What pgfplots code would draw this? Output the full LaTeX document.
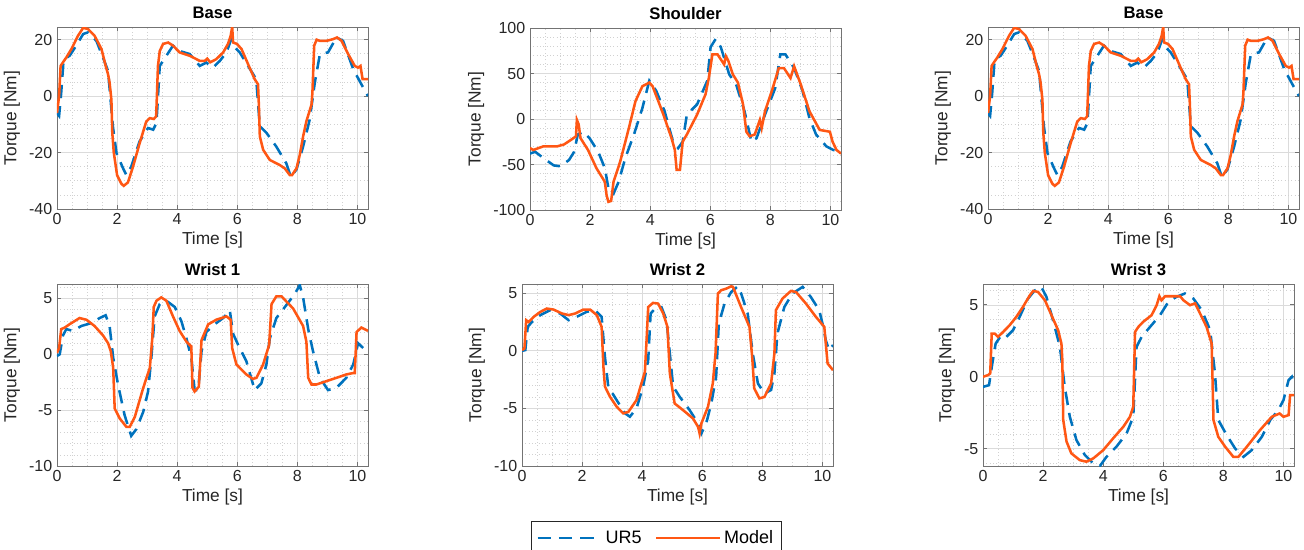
\documentclass[border=0pt]{standalone}
\usepackage{fontspec}
\setmainfont{Liberation Sans}
\usepackage{pgfplots}
\usepackage{pgfplotstable}
\pgfplotsset{compat=1.18}
\definecolor{urblue}{RGB}{0,114,189}
\definecolor{mdlorange}{RGB}{255,87,20}
\definecolor{axgray}{RGB}{38,38,38}

% Base (used twice)
\pgfplotstableread{
t y
0 -6
0.07 0
0.12 10.7
0.2 12
0.31 13.7
0.48 16.7
0.7 21.4
0.87 24.2
1.03 23.8
1.25 21.4
1.48 16.7
1.62 10.7
1.7 7.7
1.75 4.8
1.81 -1.2
1.84 -13
1.89 -20
2.0 -28
2.14 -31
2.22 -31.8
2.36 -30.6
2.53 -25
2.75 -16.7
2.97 -9
3.09 -7.8
3.22 -8.1
3.3 -7.2
3.36 10.7
3.42 16
3.53 18.5
3.7 19
3.86 17.9
4.08 15.5
4.42 14.3
4.75 12.5
4.92 12.5
5.0 13.3
5.1 12
5.3 13.1
5.53 15.5
5.69 18.5
5.78 21.4
5.83 24.5
5.86 19
5.99 18.5
6.14 16.7
6.36 11.3
6.58 6
6.69 4.2
6.72 -3.6
6.75 -14.3
6.86 -19
7.08 -22.6
7.41 -24.4
7.58 -25.6
7.75 -28
7.82 -28
7.97 -25.6
8.08 -20.8
8.19 -14.3
8.3 -8.9
8.47 -3
8.5 1.2
8.56 17.9
8.64 20
8.75 19.6
8.97 19.6
9.19 20.2
9.32 20.8
9.47 19.6
9.69 14.9
9.91 10.7
10.02 10.1
10.1 10.7
10.17 6
10.35 6
}\baseM
\pgfplotstableread{
t y
0 -6
0.07 -7
0.14 1.2
0.22 13
0.42 14.3
0.64 17.9
0.87 22
1.03 22.6
1.31 19.6
1.53 13.7
1.7 8.9
1.86 -10.7
1.98 -20.2
2.2 -25.6
2.31 -28
2.47 -25
2.75 -16
3.03 -11.3
3.2 -11.9
3.31 -9.5
3.42 10.7
3.64 14.3
3.86 17.9
4.08 16
4.42 14.9
4.75 10.7
4.97 11.9
5.19 10.1
5.42 12.5
5.64 15.5
5.8 20.2
5.92 17.3
6.08 15.5
6.36 10.7
6.63 6
6.75 -10.7
6.97 -13
7.3 -17.9
7.63 -23.8
7.78 -28.6
7.97 -26
8.19 -17.9
8.41 -8.3
8.58 4.8
8.75 14.9
9.02 15.5
9.3 20.8
9.52 19.6
9.86 9.5
10.13 4.2
10.35 0
}\baseU

% Shoulder
\pgfplotstableread{
t y
0 -32
0.11 -34
0.28 -32
0.45 -30
0.91 -30
1.13 -28
1.36 -23
1.53 -19
1.56 -1
1.62 -6
1.68 -21
1.93 -34
2.21 -54
2.49 -69
2.55 -84
2.61 -91
2.7 -90
2.78 -69
3.0 -47
3.29 -10
3.51 19.6
3.74 36
3.97 40
4.08 36
4.42 6.6
4.71 -21
4.82 -34
4.88 -56
4.99 -56
5.08 -25
5.22 -17
5.56 4.8
5.84 27
5.95 45
6.07 71
6.24 71
6.46 60
6.52 69
6.6 64
6.75 49
6.92 40
7.09 16
7.2 -14
7.31 -19
7.48 -17
7.65 -1
7.71 -10
7.82 8.5
8.05 31
8.28 56
8.45 56
8.67 45
8.79 58
9.01 38
9.3 8.5
9.64 -12
9.98 -14
10.07 -25
10.2 -34
10.35 -38
}\shM
\pgfplotstableread{
t y
0 -38
0.17 -36
0.45 -43
0.79 -51
1.02 -52
1.3 -45
1.47 -36
1.59 -17
1.76 -14
1.98 -21
2.27 -36
2.49 -54
2.61 -76
2.78 -82
2.95 -69
3.17 -43
3.46 -17
3.74 12
3.97 42
4.2 31
4.48 8.5
4.76 -25
4.93 -32
5.08 -25
5.22 4.8
5.56 16
5.9 42
6.01 79
6.18 88
6.35 79
6.63 49
6.86 38
7.14 8.5
7.37 -25
7.54 -21
7.82 4.8
8.16 34
8.33 71
8.5 71
8.79 56
9.07 31
9.3 1
9.52 -17
9.86 -30
10.09 -34
10.35 -36
}\shU

% Wrist 1
\pgfplotstableread{
t y
0 0.14
0.07 0.56
0.14 2.26
0.26 2.4
0.42 2.7
0.75 3.25
0.98 3.1
1.25 2.54
1.53 1.7
1.7 1.0
1.79 0.28
1.87 -1.2
1.92 -4.85
2.09 -5.75
2.31 -6.5
2.42 -6.5
2.59 -5.6
2.87 -3.0
3.09 -1.2
3.17 1.4
3.22 4.24
3.31 4.8
3.47 5.1
3.64 4.8
3.86 3.4
4.08 2.1
4.31 1.13
4.47 0.7
4.51 -3.0
4.58 -3.33
4.72 -2.9
4.81 1.27
5.03 2.68
5.3 3.1
5.64 3.4
5.78 3.1
5.83 0.56
5.97 -0.9
6.3 -1.8
6.52 -2.2
6.64 -2.1
6.86 -0.9
7.06 0.85
7.14 4.5
7.3 5.2
7.47 5.2
7.86 4.1
8.19 2.54
8.3 1.13
8.36 -2.1
8.47 -2.7
8.63 -2.7
9.08 -2.3
9.63 -1.8
9.86 -1.67
9.91 -1.67
9.97 2.0
10.13 2.4
10.35 2.1
}\wAM
\pgfplotstableread{
t y
0 -0.15
0.09 0
0.2 1.7
0.31 2.26
0.53 2.1
0.81 2.54
1.14 2.8
1.42 3.25
1.62 3.5
1.75 2.54
1.87 -0.3
2.03 -2.7
2.25 -5.45
2.47 -7.3
2.64 -6.7
2.87 -5.15
3.03 -3.33
3.14 -0.3
3.25 3.4
3.42 4.5
3.64 4.8
3.92 4.24
4.14 2.97
4.31 1.4
4.47 -0.3
4.58 -3.2
4.7 -3.2
4.81 0.28
4.97 2.0
5.25 2.7
5.53 3.25
5.75 3.95
5.86 1.84
6.03 0.85
6.3 -0.6
6.58 -3.2
6.8 -2.6
6.97 -0.9
7.08 1.4
7.3 3.25
7.63 4.4
7.91 5.4
8.08 6.2
8.19 5.1
8.36 2.26
8.52 0.28
8.75 -2.1
9.02 -3.2
9.3 -3.0
9.63 -2.1
9.86 -0.9
10.02 1.0
10.19 0.56
10.35 0.7
}\wAU

% Wrist 2
\pgfplotstableread{
t y
0 0.06
0.08 0.2
0.14 2.66
0.22 2.5
0.39 2.95
0.61 3.38
0.83 3.67
1.05 3.58
1.33 3.24
1.55 3.1
1.77 3.24
2.04 3.58
2.27 3.58
2.49 3.1
2.65 2.08
2.71 -1.4
2.76 -3.1
2.93 -4.0
3.15 -4.85
3.37 -5.43
3.54 -5.3
3.81 -4.28
4.09 -1.82
4.14 0.64
4.2 3.8
4.36 4.16
4.53 4.1
4.7 3.24
4.84 2.08
4.92 -1.97
5.08 -4.57
5.36 -5.15
5.69 -5.87
5.86 -6.6
5.91 -7.17
5.97 -6.3
6.19 -4.85
6.35 -2.83
6.44 -0.23
6.52 4.97
6.63 5.26
6.8 5.4
6.96 5.6
7.02 5.55
7.29 3.8
7.57 2.08
7.66 -0.52
7.73 -3.27
7.9 -4.13
8.07 -4.0
8.29 -2.83
8.4 -0.23
8.45 3.53
8.67 4.54
8.95 5.2
9.12 5.1
9.45 4.1
9.78 2.95
10.06 2.08
10.17 -1.1
10.35 -1.68
}\wBM
\pgfplotstableread{
t y
0 0
0.11 0.06
0.19 2.08
0.33 2.5
0.61 3.1
0.94 3.53
1.27 3.24
1.55 2.66
1.82 2.95
2.15 3.38
2.43 3.53
2.65 2.95
2.76 -0.52
2.87 -3.1
3.15 -4.28
3.43 -5.43
3.59 -5.72
3.81 -5.0
4.03 -3.1
4.2 -0.8
4.28 3.24
4.48 3.8
4.64 3.8
4.81 2.66
4.92 -0.23
5.03 -3.1
5.25 -4.0
5.58 -5.15
5.86 -6.3
5.97 -7.17
6.13 -6.3
6.3 -4.57
6.46 -2.25
6.55 2.37
6.74 4.1
6.96 5.1
7.18 5.6
7.29 5.0
7.51 3.24
7.68 -0.23
7.85 -2.83
8.07 -3.7
8.29 -3.4
8.4 -1.97
8.5 1.5
8.73 3.8
9.0 4.97
9.34 5.55
9.61 4.68
9.89 3.53
10.0 2.37
10.11 0.92
10.22 0.06
10.35 0.5
}\wBU

% Wrist 3
\pgfplotstableread{
t y
0 0
0.17 0.12
0.24 0.23
0.29 3.0
0.39 3.0
0.5 2.78
0.67 3.12
0.89 3.59
1.11 4.17
1.33 4.86
1.56 5.67
1.67 5.97
1.83 5.9
2.06 5.32
2.28 4.28
2.5 3.24
2.61 2.3
2.64 1.16
2.67 -3.0
2.78 -4.5
2.94 -5.32
3.22 -5.79
3.44 -5.9
3.67 -5.67
4.0 -5.1
4.33 -4.28
4.67 -3.47
4.89 -2.78
5.0 -2.08
5.06 3.12
5.17 3.47
5.33 3.82
5.61 4.28
5.78 4.98
5.87 5.6
5.94 5.32
6.06 5.6
6.22 5.6
6.56 5.6
6.67 5.32
6.89 4.98
7.06 5.1
7.17 4.63
7.44 3.47
7.61 2.3
7.67 -3.0
7.83 -4.17
8.06 -4.86
8.33 -5.56
8.5 -5.56
8.78 -4.86
9.22 -3.7
9.61 -2.78
9.87 -2.55
10.0 -2.78
10.17 -2.66
10.22 -1.27
10.35 -1.27
}\wCM
\pgfplotstableread{
t y
0 -0.7
0.2 -0.58
0.31 0.93
0.42 2.3
0.61 2.9
0.78 2.78
1.0 3.24
1.22 4.17
1.5 5.44
1.72 6.0
1.94 6.25
2.11 5.56
2.33 3.93
2.56 2.08
2.72 -0.7
2.89 -2.78
3.11 -4.4
3.39 -5.44
3.67 -6.02
3.89 -6.2
4.11 -5.56
4.44 -4.86
4.78 -3.93
5.0 -2.78
5.11 2.08
5.28 2.78
5.56 3.47
5.89 4.28
6.17 5.21
6.44 5.56
6.72 5.79
7.0 5.44
7.28 4.63
7.56 3.24
7.72 0.23
7.83 -3.0
8.11 -4.05
8.39 -4.98
8.67 -5.56
8.94 -5.1
9.28 -4.17
9.56 -3.0
9.83 -2.3
10.0 -1.62
10.17 -0.23
10.28 0
10.35 -0.46
}\wCU

\pgfplotsset{
  torque/.style={
    width=233.25pt, height=136.5pt, scale only axis,
    anchor=north west,
    xmin=0, xmax=10.35, xtick={0,2,...,10},
    minor xtick={0,0.5,...,10},
    grid=both,
    major grid style={black!14, line width=0.5pt},
    minor grid style={black!18, line width=0.5pt, dotted},
    axis line style={black!55, line width=0.6pt},
    tick style={black!55, line width=0.6pt},
    major tick length=3pt, minor tick length=0pt,
    tick align=inside,
    tick label style={font=\fontsize{12}{14}\selectfont, text=axgray},
    label style={font=\fontsize{13}{15}\selectfont, text=axgray},
    title style={font=\fontsize{12.5}{14}\selectfont\bfseries, yshift=-3.5pt},
    xlabel={Time [s]}, ylabel={Torque [Nm]},
    xlabel style={yshift=2pt},
    /pgf/number format/assume math mode=true,
  },
  ur/.style={urblue, line width=1.9pt, dash pattern=on 10pt off 6pt},
  mdl/.style={mdlorange, line width=1.9pt},
}

\begin{document}
\begin{tikzpicture}
\useasboundingbox (0,0) rectangle (978pt,-412.5pt);

\begin{axis}[torque, at={(42.75pt,-20.25pt)}, title={Base},
  ymin=-40, ymax=24.5, ytick={-40,-20,0,20}, minor ytick={-40,-35,...,25}]
  \addplot[ur] table {\baseU};
  \addplot[mdl] table {\baseM};
\end{axis}

\begin{axis}[torque, at={(397.5pt,-21pt)}, title={Shoulder},
  ymin=-100, ymax=100, ytick={-100,-50,0,50,100}, minor ytick={-100,-90,...,100}]
  \addplot[ur] table {\shU};
  \addplot[mdl] table {\shM};
\end{axis}

\begin{axis}[torque, at={(741pt,-20.25pt)}, title={Base},
  ymin=-40, ymax=24.5, ytick={-40,-20,0,20}, minor ytick={-40,-35,...,25}]
  \addplot[ur] table {\baseU};
  \addplot[mdl] table {\baseM};
\end{axis}

\begin{axis}[torque, at={(42.75pt,-213pt)}, title={Wrist 1},
  ymin=-10, ymax=6.3, ytick={-10,-5,0,5}, minor ytick={-10,-9,...,6}]
  \addplot[ur] table {\wAU};
  \addplot[mdl] table {\wAM};
\end{axis}

\begin{axis}[torque, at={(391.5pt,-213pt)}, title={Wrist 2},
  ymin=-10, ymax=5.8, ytick={-10,-5,0,5}, minor ytick={-10,-9,...,5},
  legend columns=2,
  legend style={at={(0.431,-0.30)}, anchor=north, draw=axgray, line width=0.6pt,
    font=\fontsize{13.5}{15}\selectfont, inner xsep=4pt, inner ysep=5pt,
    /tikz/every even column/.append style={column sep=8pt}},
  legend image code/.code={\draw[#1] (0pt,0pt) -- (48pt,0pt);}]
  \addplot[ur] table {\wBU};
  \addlegendentry{UR5}
  \addplot[mdl] table {\wBM};
  \addlegendentry{Model}
\end{axis}

\begin{axis}[torque, at={(737.25pt,-213pt)}, title={Wrist 3},
  ymin=-6.2, ymax=6.45, ytick={-5,0,5}, minor ytick={-6,-5,...,6}]
  \addplot[ur] table {\wCU};
  \addplot[mdl] table {\wCM};
\end{axis}
\end{tikzpicture}
\end{document}
